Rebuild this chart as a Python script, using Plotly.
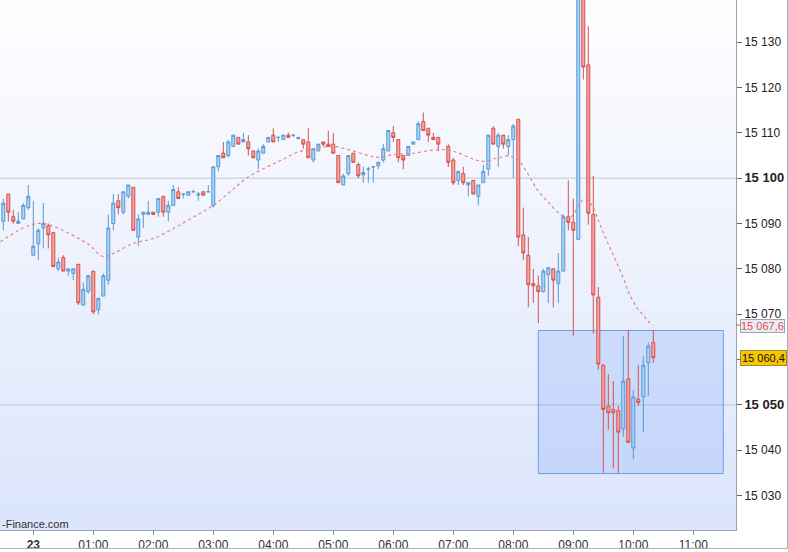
import pandas as pd
import plotly.graph_objects as go

# 5 min bars, 22nd 23:30 -> 23rd 10:20 (no bar drawn at 06:50)
bar_times = pd.date_range('2021-04-22 23:30', '2021-04-23 10:20', freq='5min')
bar_times = bar_times.drop(pd.Timestamp('2021-04-23 06:50'))

opens = [
    15090.5, 15096.5, 15091.5, 15090, 15091, 15093.5, 15083, 15085.5, 15089, 15089.5,
    15088, 15080, 15082.5, 15079.5, 15079, 15081, 15072, 15075, 15079.5, 15071,
    15074, 15077.5, 15090, 15095, 15092.5, 15096, 15098, 15087, 15092, 15092,
    15092.5, 15092.5, 15096, 15092.5, 15094, 15097, 15096.5, 15096.25, 15097, 15096.25,
    15097, 15097, 15094, 15102.5, 15105.5, 15105, 15107, 15109, 15108, 15108,
    15106, 15104, 15105.5, 15108, 15109.5, 15109, 15108.5, 15109.5, 15109.5, 15108.75,
    15108.5, 15108, 15104, 15106, 15108, 15107.5, 15107.5, 15105, 15098.5, 15101,
    15105.5, 15103, 15100.75, 15102, 15102.5, 15102.75, 15104, 15106, 15110, 15108.5,
    15105, 15105, 15107.5, 15108.5, 15112.5, 15111, 15109, 15109,
    15107, 15104, 15099.5, 15101, 15098.5, 15099.5, 15096, 15099, 15102, 15111,
    15107, 15109.5, 15107, 15108.5, 15113, 15087.5, 15083, 15076.75, 15076.25, 15075,
    15078.75, 15080, 15076.75, 15079.5, 15091.5, 15090.25, 15086.5, 15146, 15125, 15092,
    15073.75, 15058.75, 15049.75, 15049, 15048.75, 15044.75, 15055.75, 15040.5, 15051.25, 15051.75,
    15059.25, 15063.75,
]
highs = [
    15095.5, 15096.5, 15093, 15092.5, 15094.5, 15098.5, 15095, 15089, 15094.5, 15090,
    15088, 15082.5, 15083, 15080, 15080, 15081, 15077, 15078.5, 15079.5, 15073.5,
    15079, 15092, 15096.5, 15096.5, 15097, 15098.5, 15098, 15092, 15092.5, 15095,
    15092.5, 15095.5, 15096, 15095, 15098.5, 15098, 15096.5, 15097, 15097.5, 15097,
    15097, 15098.5, 15102.5, 15105, 15108, 15108.5, 15109.5, 15109, 15110, 15109.5,
    15106, 15106.5, 15107.5, 15109, 15111, 15109, 15109.5, 15110, 15109.5, 15109,
    15108.5, 15111, 15106.5, 15107.5, 15108, 15110.5, 15110, 15105, 15101, 15105,
    15105.5, 15103.5, 15102.5, 15102.5, 15102.5, 15103.5, 15107.5, 15110.5, 15111.5, 15108.5,
    15105, 15107, 15108, 15112.5, 15114.5, 15111, 15110, 15109,
    15107.5, 15104.5, 15101.5, 15102.5, 15099, 15099.5, 15098.5, 15103, 15109.5, 15111.5,
    15110, 15109.5, 15109.5, 15112, 15113, 15093.5, 15087, 15080, 15078.5, 15080,
    15080.25, 15080, 15083.5, 15092, 15099.5, 15095.5, 15152, 15153, 15133.5, 15100.5,
    15076, 15059, 15056.75, 15055.25, 15049.75, 15065.25, 15066.5, 15053.25, 15058.75, 15060.75,
    15063.75, 15066.5,
]
lows = [
    15088.5, 15090.5, 15090, 15090, 15091, 15093, 15083, 15082, 15084.5, 15084.5,
    15080.5, 15079.5, 15079.5, 15078.5, 15077.5, 15072, 15072, 15074.5, 15070, 15070,
    15074, 15076.5, 15088.5, 15092, 15092, 15095.5, 15088.5, 15085, 15089, 15092,
    15092, 15091.5, 15091.5, 15090.5, 15094, 15095.5, 15095.5, 15096.25, 15097, 15095,
    15096.25, 15097, 15093.5, 15101.5, 15104.5, 15104.5, 15107, 15107.5, 15108, 15105,
    15104.5, 15102, 15105.5, 15108, 15108, 15108, 15108.5, 15109, 15109, 15108.5,
    15106.5, 15104.5, 15103.5, 15106, 15107, 15107, 15105.5, 15099, 15098.5, 15100.5,
    15103.5, 15100, 15099, 15099, 15099, 15102, 15103.5, 15106, 15108, 15103.5,
    15102, 15105, 15107.5, 15108.5, 15110.5, 15108, 15108.5, 15106,
    15102.5, 15098.5, 15098.5, 15098.5, 15096, 15096.5, 15094, 15099, 15100.5, 15107.5,
    15102.5, 15106.5, 15105, 15100, 15085, 15082, 15071.5, 15072.5, 15068, 15074.75,
    15072.5, 15071.5, 15072.5, 15079.5, 15088.5, 15065.25, 15086.5, 15121.75, 15089.75, 15065.75,
    15057.75, 15035, 15044.5, 15036, 15035, 15043, 15041.5, 15038, 15049.75, 15044,
    15052, 15059.25,
]
closes = [
    15094.5, 15092.5, 15090.5, 15090.5, 15094, 15096, 15085, 15088.5, 15090, 15087.5,
    15080.5, 15081.5, 15079.5, 15080, 15080, 15072.5, 15075.5, 15078.5, 15070.5, 15073.5,
    15078.5, 15089, 15094.5, 15093.5, 15097, 15098.5, 15088.5, 15091, 15092.5, 15092.5,
    15092, 15095.5, 15092.5, 15094, 15097.5, 15095.5, 15096.5, 15097, 15097, 15096.5,
    15096.25, 15097, 15102.5, 15105, 15104.5, 15108, 15109.5, 15107.5, 15108.5, 15106.5,
    15104.5, 15106, 15107, 15109, 15108, 15109, 15109.5, 15109, 15109.5, 15109,
    15107.5, 15104.5, 15106.5, 15107.5, 15107.5, 15107, 15105.5, 15099, 15100.5, 15105,
    15103.5, 15100.5, 15101.25, 15102, 15102.5, 15103.5, 15106.5, 15110.5, 15109, 15104.5,
    15104, 15107, 15108, 15112, 15110.5, 15109.5, 15108.5, 15107.5,
    15103.5, 15099, 15101.5, 15099, 15099, 15096.5, 15098.5, 15101.5, 15109.5, 15107.5,
    15109.5, 15107.5, 15108.5, 15111.5, 15087, 15083.5, 15076.5, 15076.25, 15075, 15079.5,
    15080.25, 15077.5, 15079.5, 15091.5, 15090.25, 15088.5, 15146, 15124.5, 15092.25, 15074.25,
    15059, 15049, 15048.25, 15048.25, 15044, 15055.25, 15041.75, 15051.75, 15050.5, 15058.75,
    15063, 15060.4,
]

# moving average (dashed red line)
ma_times = [
    '2021-04-22 23:27', '2021-04-22 23:55', '2021-04-23 00:10', '2021-04-23 00:35',
    '2021-04-23 00:55', '2021-04-23 01:10', '2021-04-23 01:20', '2021-04-23 01:40',
    '2021-04-23 02:00', '2021-04-23 02:20', '2021-04-23 02:40', '2021-04-23 03:00',
    '2021-04-23 03:20', '2021-04-23 03:35', '2021-04-23 03:55', '2021-04-23 04:10',
    '2021-04-23 04:25', '2021-04-23 04:45', '2021-04-23 05:00', '2021-04-23 05:15',
    '2021-04-23 05:35', '2021-04-23 05:45', '2021-04-23 06:00', '2021-04-23 06:20',
    '2021-04-23 06:40', '2021-04-23 06:55', '2021-04-23 07:05', '2021-04-23 07:20',
    '2021-04-23 07:30', '2021-04-23 07:45', '2021-04-23 07:55', '2021-04-23 08:05',
    '2021-04-23 08:15', '2021-04-23 08:25', '2021-04-23 08:35', '2021-04-23 08:45',
    '2021-04-23 08:55', '2021-04-23 09:00', '2021-04-23 09:05', '2021-04-23 09:10',
    '2021-04-23 09:15', '2021-04-23 09:20', '2021-04-23 09:25', '2021-04-23 09:30',
    '2021-04-23 09:35', '2021-04-23 09:40', '2021-04-23 09:45', '2021-04-23 09:50',
    '2021-04-23 09:55', '2021-04-23 10:00', '2021-04-23 10:05', '2021-04-23 10:10',
    '2021-04-23 10:15', '2021-04-23 10:20',
]
ma_values = [
    15086.0, 15089.5, 15090.0, 15087.9,
    15085.4, 15082.7, 15083.4, 15085.6,
    15086.7, 15088.9, 15091.4, 15094.0,
    15097.6, 15100.3, 15102.6, 15104.2,
    15105.8, 15106.7, 15107.0, 15106.3,
    15105.0, 15104.6, 15105.2, 15105.5,
    15106.2, 15106.2, 15105.6, 15104.2,
    15103.7, 15104.5, 15104.9, 15104.0,
    15100.8, 15097.1, 15094.7, 15092.4,
    15091.0, 15092.0, 15093.8, 15095.3,
    15095.0, 15093.5, 15090.8, 15088.0,
    15085.5, 15083.0, 15080.5, 15078.0,
    15075.0, 15072.8, 15071.0, 15069.8,
    15068.4, 15067.6,
]

hour_ticks = [t.strftime('%Y-%m-%d %H:%M') for t in pd.date_range('2021-04-23 00:00', periods=12, freq='h')]
hour_labels = ['<b>23</b>'] + [f'{h:02d}:00' for h in range(1, 12)]

price_ticks = list(range(15030, 15131, 10))
bold_prices = [15050, 15100]
hidden_prices = [15060]  # sits under the last-price tag


def price_label(v):
    s = f'{v:,}'.replace(',', ' ')
    if v in hidden_prices:
        return ''
    if v in bold_prices:
        return f'<b><span style="font-size:13px">{s}</span></b>'
    return s


def fr_number(v):
    return f'{v:,.1f}'.replace(',', ' ').replace('.', ',')


# highlighted zone (blue box)
zone_x = ['2021-04-23 08:25', '2021-04-23 11:30']
zone_y = [15034.85, 15066.4]

last_price = closes[-1]
last_ma = ma_values[-1]

fig = go.Figure()

fig.add_trace(go.Candlestick(
    x=bar_times, open=opens, high=highs, low=lows, close=closes,
    increasing=dict(line=dict(color='#5a97d3', width=1), fillcolor='#a6d4f7'),
    decreasing=dict(line=dict(color='#d4504c', width=1), fillcolor='#f6a3a1'),
    whiskerwidth=0,
))

fig.add_trace(go.Scatter(
    x=pd.to_datetime(ma_times), y=ma_values, mode='lines',
    line=dict(color='#ea8080', width=1.2, dash='3px,3px', shape='spline'),
))

# background gradient, white at top to pale blue at bottom
shapes = []
n_bands = 60
top_rgb = (254, 254, 255)
bot_rgb = (219, 229, 251)
for i in range(n_bands):
    t = i / (n_bands - 1)
    c = tuple(round(top_rgb[j] + (bot_rgb[j] - top_rgb[j]) * t) for j in range(3))
    shapes.append(dict(
        type='rect', xref='paper', yref='paper', layer='below',
        x0=0, x1=1, y0=1 - (i + 1) / n_bands, y1=1 - i / n_bands + 0.002,
        fillcolor=f'rgb{c}', line=dict(width=0),
    ))

shapes.append(dict(
    type='rect', xref='x', yref='y', layer='below',
    x0=zone_x[0], x1=zone_x[1], y0=zone_y[0], y1=zone_y[1],
    fillcolor='rgba(110,155,250,0.22)', line=dict(color='#6b9cf2', width=1),
))
for p in bold_prices:
    shapes.append(dict(
        type='line', xref='paper', yref='y', layer='below',
        x0=0, x1=1, y0=p, y1=p, line=dict(color='#c2c6cf', width=1),
    ))
# small red tick for the average value on the axis
shapes.append(dict(
    type='line', xref='paper', yref='y', x0=1.0, x1=1.007, y0=last_ma, y1=last_ma,
    line=dict(color='#e0504a', width=1),
))
# outer frame (right and bottom)
shapes.append(dict(type='line', xref='paper', yref='paper', x0=787.5 / 736, x1=787.5 / 736,
                   y0=-19 / 533, y1=1, line=dict(color='#a9b0b8', width=1)))
shapes.append(dict(type='line', xref='paper', yref='paper', x0=0, x1=787.5 / 736,
                   y0=-18.5 / 533, y1=-18.5 / 533, line=dict(color='#a9b0b8', width=1)))

annotations = [
    dict(xref='paper', yref='y', x=1.005, y=last_ma, xanchor='left', yanchor='middle',
         yshift=-1, text=fr_number(last_ma), showarrow=False,
         font=dict(color='#e0504a', size=11), bgcolor='#e9edf3',
         bordercolor='#9aa6b2', borderwidth=1, borderpad=0),
    dict(xref='paper', yref='y', x=1.005, y=last_price, xanchor='left', yanchor='middle',
         text=fr_number(last_price), showarrow=False,
         font=dict(color='#111', size=11), bgcolor='#f7c600',
         bordercolor='#a08a3a', borderwidth=1, borderpad=1),
    dict(xref='paper', yref='paper', x=0, y=6 / 533, xanchor='left', yanchor='middle',
         text='-Finance.com', showarrow=False, font=dict(color='#333', size=11)),
]

fig.update_layout(
    width=788, height=552,
    margin=dict(l=0, r=52, t=0, b=19),
    paper_bgcolor='white', plot_bgcolor='white',
    showlegend=False, boxgap=0.15,
    font=dict(family='Liberation Sans, Arial, sans-serif', size=12, color='#222'),
    shapes=shapes, annotations=annotations,
    xaxis=dict(
        type='date', range=['2021-04-22 23:26:42', '2021-04-23 11:42:42'],
        rangeslider=dict(visible=False), showgrid=False, zeroline=False,
        tickvals=hour_ticks, ticktext=hour_labels, ticks='outside', ticklen=4,
        tickcolor='#8a939c', showline=True, linecolor='#9aa3ad',
        tickfont=dict(size=12, color='#333'),
    ),
    yaxis=dict(
        side='right', range=[15022.4, 15139.3], showgrid=False, zeroline=False,
        tickvals=price_ticks, ticktext=[price_label(v) for v in price_ticks],
        ticks='outside', ticklen=5, tickcolor='#666', showline=True, linecolor='#9aa3ad',
        tickfont=dict(size=12, color='#222'),
    ),
)

# the page body has a default 8px margin; drop it so the figure fills the window
fig.write_html('out.html', config={'displayModeBar': False},
               post_script="document.body.style.margin='0';")
